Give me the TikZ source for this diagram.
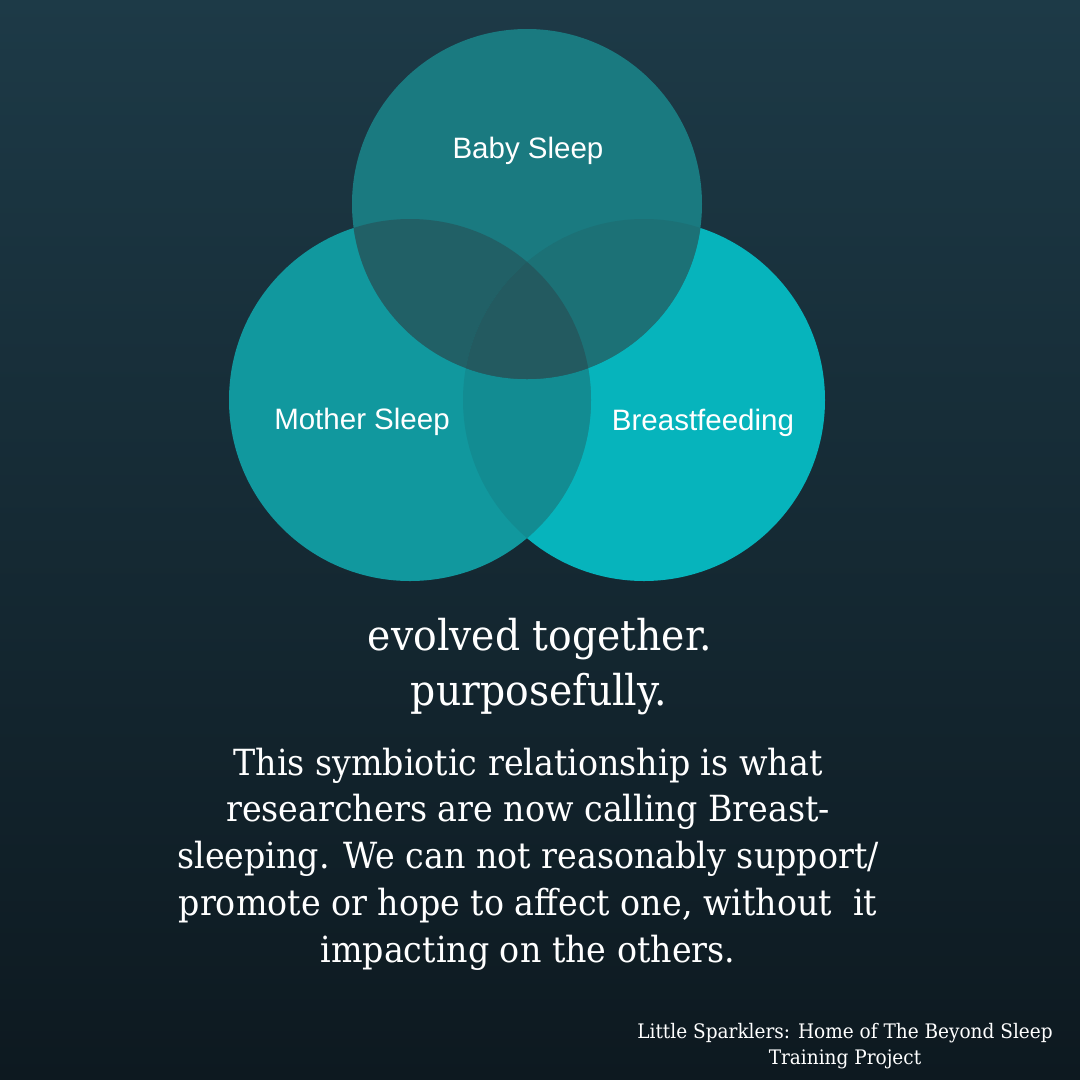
\documentclass[tikz,border=0pt]{standalone}
\usepackage{fontspec}
\setmainfont{DejaVu Serif}[FakeStretch=0.925]
\newfontfamily\labelfont{Liberation Sans}
\definecolor{bgtop}{HTML}{1D3A47}
\definecolor{bgbot}{HTML}{0D1920}
\definecolor{cR}{HTML}{06B4BC}
\definecolor{cL}{HTML}{11989E}
\definecolor{cLR}{HTML}{128C92}
\definecolor{cT}{HTML}{1A7A80}
\definecolor{cTL}{HTML}{216066}
\definecolor{cTR}{HTML}{1C7176}
\definecolor{cTLR}{HTML}{235A60}
\tikzset{
  lbl/.style={text=white,font=\labelfont\fontsize{29.5}{34}\selectfont,inner sep=0pt},
  head/.style={text=white,font=\fontsize{42.5}{55}\selectfont,align=center,inner sep=0pt},
  body/.style={text=white,font=\fontsize{36}{46.8}\selectfont,align=center,inner sep=0pt},
  foot/.style={text=white,font=\fontsize{20}{26}\selectfont,align=center,inner sep=0pt},
  venn/.style={circle,inner sep=0pt,minimum size=#1}
}
\begin{document}
\begin{tikzpicture}[x=1pt,y=-1pt]
\shade[top color=bgtop,bottom color=bgbot] (0,0) rectangle (1080,1080);
\useasboundingbox (0,0) rectangle (1080,1080);
% circles
\node[venn=362pt] (R) at (644,400) {};
\node[venn=362pt] (L) at (410,400) {};
\node[venn=350pt] (T) at (527,204) {};
\fill[cR] (644,400) circle[radius=181pt];
\fill[cL] (410,400) circle[radius=181pt];
\begin{scope}
  \clip (410,400) circle[radius=181pt];
  \fill[cLR] (644,400) circle[radius=181pt];
\end{scope}
\fill[cT] (527,204) circle[radius=175pt];
\begin{scope}
  \clip (527,204) circle[radius=175pt];
  \fill[cTL] (410,400) circle[radius=181pt];
  \fill[cTR] (644,400) circle[radius=181pt];
  \clip (410,400) circle[radius=181pt];
  \fill[cTLR] (644,400) circle[radius=181pt];
\end{scope}
% labels
\node[lbl] (tb) at (528,151) {Baby Sleep};
\node[lbl] (tm) at (362,422) {Mother Sleep};
\node[lbl] (tf) at (703,423) {Breastfeeding};
% text
\node[head] (h1) at (540,639) {evolved together.};
\node[head] (h2) at (539,694) {purposefully.};
\node[body] (b) at (528,859) {This symbiotic relationship is what\\researchers are now calling Breast-\\sleeping. We can not reasonably support/\\promote or hope to affect one, without\ \ it\\impacting on the others.};
\node[foot] (f) at (845,1046) {Little Sparklers: Home of The Beyond Sleep\\Training Project};
\end{tikzpicture}
\end{document}
